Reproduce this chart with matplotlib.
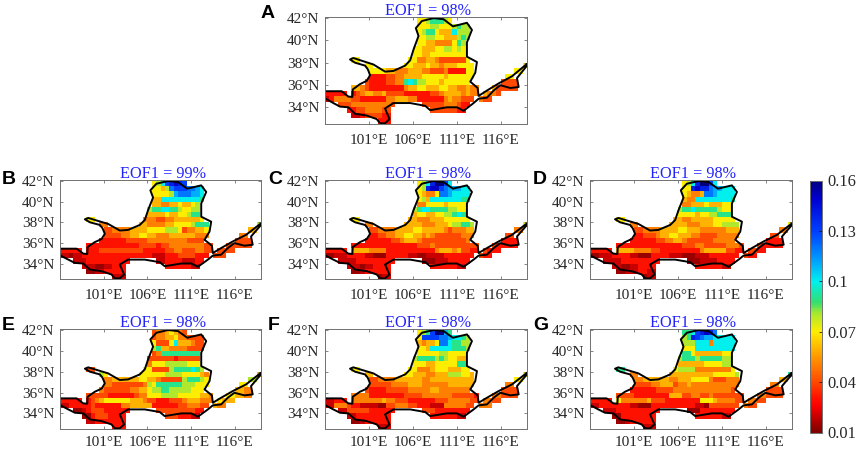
import numpy as np
import matplotlib
matplotlib.use('Agg')
import matplotlib.pyplot as plt
from matplotlib.colors import LinearSegmentedColormap

plt.rcParams['font.family'] = ['Liberation Serif', 'DejaVu Serif']

W, H = 858, 450

# one hex digit per 0.5 degree cell, '.' = outside basin
PANEL_A = [
    '.....................66788876',
    '.....................666776667877',
    '.....................678865559777',
    '.....................667766555787',
    '.....................66554444687',
    '....................665556677676',
    '....................665566666666',
    '......66...........66445543333336',
    '.........66.......6655565545556666...........6',
    '..........666655444555443334222266.........66',
    '..........222233445555666665666666.......66',
    '.........322223344898776665666666.......3333',
    '......55432222222245566555665544544...533333',
    '22222.23455445333322222233455554544.5443',
    '1244443322222244555442222224544333.433',
    '...3334444444443......33333444322',
    '.....2233444433.........33333322',
    '......112333322',
    '............222',
]
PANEL_B = [
    '.....................679cdedc',
    '.....................6657bcccbba9',
    '.....................66667abbbaa9',
    '.....................559999999998',
    '.....................55445565567',
    '....................788998876677',
    '....................555565566788',
    '......66...........44433445555556',
    '.........44.......5544445566667888...........7',
    '..........334444555566667776344556.........55',
    '..........333344556655444555555444.......44',
    '.........222222333334444444443333.......3333',
    '......22222222222233332334444444433...333333',
    '22222.22233333333332222233443334433.3333',
    '1101122222222222222221112223333222.333',
    '...1112222222222......11222211122',
    '.....1110011222.........22222211',
    '......001122222',
    '............111',
]
PANEL_C = [
    '.....................679dffc9',
    '.....................67deecbaaa99',
    '.....................65446bba9999',
    '.....................675999999988',
    '.....................44666656666',
    '....................789988887766',
    '....................566556677898',
    '......66...........55444555666666',
    '.........44.......5555444555677887...........6',
    '..........334444555566555554344455.........44',
    '..........223344556655454333333444.......33',
    '.........222222334555433333333334.......2222',
    '......22222222222222233343333333333...322222',
    '22222.55554444222222222224555453322.3222',
    '0011122221100022222110011112222222.322',
    '...1111222222222......00011122222',
    '.....1110112222.........22222211',
    '......001222222',
    '............011',
]
PANEL_D = [
    '.....................679dffc9',
    '.....................66deddbaa999',
    '.....................65445bba9999',
    '.....................544999999998',
    '.....................44555655566',
    '....................788988888766',
    '....................666656677888',
    '......66...........55445555566666',
    '.........44.......5555444555667777...........6',
    '..........334444555566555444444555.........44',
    '..........223334556655544333344444.......33',
    '.........222222334455433333344444.......2222',
    '......22222222222222233344333334443...322222',
    '22222.55554444332222222224555553322.3322',
    '0011122221100022221110001112222222.322',
    '...1111222222222......00011112222',
    '.....1100112222.........22222211',
    '......001112211',
    '............011',
]
PANEL_E = [
    '.....................34456543',
    '.....................344556443333',
    '.....................633369555433',
    '.....................785544443333',
    '.....................34888888888',
    '....................333333233333',
    '....................466677777666',
    '......33...........66333378888987',
    '.........76.......6666667777666654...........5',
    '..........445555556655433333788876.........77',
    '..........443333333476888888777666.......66',
    '.........433333344556778877777666.......5544',
    '......33333222222344666777766666554...665544',
    '22222.23456666665554332223334555444.6555',
    '1122222322222244555552222223344433.544',
    '...0012333222222......33333333322',
    '.....0023332222.........33322211',
    '......112222222',
    '............222',
]
PANEL_F = [
    '.....................678cffa8',
    '.....................6ccccbba9987',
    '.....................54556bb98877',
    '.....................665999998887',
    '.....................66666776666',
    '....................788887876655',
    '....................666556666688',
    '......66...........66444566655566',
    '.........55.......6655544555777665...........6',
    '..........334444555555445555555555.........66',
    '..........333334444555444444555555.......44',
    '.........322223333344444554444444.......3333',
    '......44442222222233334444444333332...443333',
    '11222.44444445443332222223334444433.4433',
    '1144432211110033444332221114444433.444',
    '...1133333222222......33322222222',
    '.....1122222222.........22222211',
    '......001222222',
    '............111',
]
PANEL_G = [
    '.....................889cdedb',
    '.....................78dcbaa99999',
    '.....................777999499999',
    '.....................666999999999',
    '.....................88655555566',
    '....................788878888877',
    '....................555555666677',
    '......88...........67777444444446',
    '.........44.......5555555555666667...........8',
    '..........445555554455566664333444.........55',
    '..........333344555344544444444444.......44',
    '.........222222333344444444444443.......3333',
    '......33332222222255533443343333333...443333',
    '22222.64444445333222222226665444433.4433',
    '1122222221100022222222221103333333.433',
    '...1112222222222......00022222222',
    '.....0022222222.........22222211',
    '......001222222',
    '............111',
]

PANELS = [PANEL_A, PANEL_B, PANEL_C, PANEL_D, PANEL_E, PANEL_F, PANEL_G]
LETTERS = ['A', 'B', 'C', 'D', 'E', 'F', 'G']
EOF_TITLES = ['EOF1 = 98%', 'EOF1 = 99%', 'EOF1 = 98%', 'EOF1 = 98%',
              'EOF1 = 98%', 'EOF1 = 98%', 'EOF1 = 98%']

# value of each hex digit
LEVELS = [0.014, 0.02, 0.03, 0.04, 0.05, 0.06, 0.07, 0.08, 0.09, 0.10, 0.11, 0.12, 0.13, 0.14, 0.15, 0.16]

# basin outline, lon / lat
BASIN_LON = [96.0, 97.9, 98.66, 99.12, 99.16, 99.99, 100.75, 101.13, 100.87, 100.56, 99.42, 98.85,
             99.23, 100.37, 101.51, 102.84, 103.79, 105.13, 105.7, 106.08, 106.65, 106.34, 107.03,
             108.36, 109.5, 110.56, 112.16, 112.73, 112.16, 112.16, 113.3, 113.11, 112.54, 113.38,
             113.49, 114.44, 115.77, 117.29, 119.0, 119.0, 117.86, 118.05, 117.1, 115.96, 115.2,
             114.44, 113.49, 112.92, 111.78, 111.02, 109.88, 107.98, 107.41, 105.7, 103.79, 102.84,
             103.34, 102.84, 102.27, 101.89, 100.75, 99.42, 98.66, 97.71, 96.95, 96.0]
BASIN_LAT = [35.44, 35.44, 34.96, 34.93, 35.6, 36.08, 36.37, 36.88, 37.42, 37.74, 38.0, 38.29,
             38.42, 38.13, 37.84, 37.2, 37.26, 37.74, 38.22, 39.18, 40.4, 41.1, 41.74,
             42.0, 41.9, 41.26, 41.58, 40.94, 39.82, 38.54, 38.06, 37.1, 36.3, 35.73,
             35.02, 35.5, 36.14, 36.78, 37.9, 37.74, 36.62, 35.82, 35.73, 35.98, 35.5,
             34.86, 34.77, 34.38, 33.68, 34.0, 34.0, 33.74, 34.13, 34.38, 34.38, 33.9,
             32.94, 32.56, 32.56, 32.94, 33.26, 33.42, 34.0, 34.06, 34.38, 34.8]

LAT_TICKS = [34, 36, 38, 40, 42]
LAT_LABELS = ['34°N', '36°N', '38°N', '40°N', '42°N']
LON_TICKS = [101, 106, 111, 116]
LON_LABELS = ['101°E', '106°E', '111°E', '116°E']
CBAR_TICKS = [0.01, 0.04, 0.07, 0.1, 0.13, 0.16]
CBAR_LABELS = ['0.01', '0.04', '0.07', '0.1', '0.13', '0.16']

# left, right, top, bottom in pixels
BOXES = [(325, 527, 17, 124), (60, 261, 180, 279), (325, 527, 180, 279), (590, 792, 180, 279),
         (60, 261, 329, 429), (325, 527, 329, 429), (590, 792, 329, 429)]
LETTER_XY = [(261, 18), (2, 184), (268, 184), (533, 184), (2, 330), (268, 330), (533, 330)]

cmap = LinearSegmentedColormap.from_list('eof', [
    (0.0, '#7f0000'), (0.03, '#a00000'), (0.1, '#f80000'), (0.133, '#ff1000'), (0.2, '#ff4c00'),
    (0.3, '#ff9800'), (0.4, '#ffee00'), (0.47, '#a8e830'), (0.52, '#30e070'), (0.6, '#00f0f0'),
    (0.7, '#0090ff'), (0.8, '#0040ff'), (0.93, '#0000d0'), (1.0, '#00007f')], N=128)


def to_grid(rows):
    grid = np.full((19, 46), np.nan)
    for i, row in enumerate(rows):
        for j, ch in enumerate(row[:46]):
            if ch != '.':
                grid[i, j] = LEVELS[int(ch, 16)]
    return grid


fig = plt.figure(figsize=(W / 100, H / 100), dpi=100)
lon_edges = np.arange(96, 119.01, 0.5)
lat_edges = np.arange(42, 32.49, -0.5)

for rows, letter, title, box, lxy in zip(PANELS, LETTERS, EOF_TITLES, BOXES, LETTER_XY):
    l, r, t, b = box
    ax = fig.add_axes([l / W, 1 - b / H, (r - l) / W, (b - t) / H])
    mesh = ax.pcolormesh(lon_edges, lat_edges, to_grid(rows), cmap=cmap, vmin=0.01, vmax=0.16)
    ax.plot(BASIN_LON, BASIN_LAT, color='black', lw=1.4)
    ax.set_xlim(96, 119)
    ax.set_ylim(32.5, 42.1)
    ax.set_xticks(LON_TICKS, LON_LABELS)
    ax.set_yticks(LAT_TICKS, LAT_LABELS)
    ax.tick_params(direction='in', length=2, width=0.5, color='#555555', labelsize=11,
                   labelcolor='#262626', top=True, right=True)
    # baseline aligned labels, bottom row a little tighter so it stays on the canvas
    ax.tick_params(axis='x', pad=12.4 if b > 400 else 14.2)
    for lab in ax.get_xticklabels():
        lab.set_verticalalignment('baseline')
    ax.tick_params(axis='y', pad=4)
    for s in ax.spines.values():
        s.set_color('#707070')
        s.set_linewidth(0.7)
    ax.set_title(title, color='#2222ff', fontsize=11.7, pad=1.5, x=0.51)
    fig.text(lxy[0] / W, 1 - lxy[1] / H, letter, fontsize=14, fontweight='bold',
             family='Liberation Sans', color='black', ha='left', va='baseline')

cax = fig.add_axes([809.5 / W, 1 - 432.5 / H, 12 / W, 252 / H])
cb = fig.colorbar(mesh, cax=cax)
cb.set_ticks(CBAR_TICKS, labels=CBAR_LABELS)
cb.ax.tick_params(direction='in', length=2, width=0.5, labelsize=11.8, labelcolor='#262626', pad=4)
cb.outline.set_edgecolor('#707070')
cb.outline.set_linewidth(0.7)

plt.savefig('out.png', dpi=100)
